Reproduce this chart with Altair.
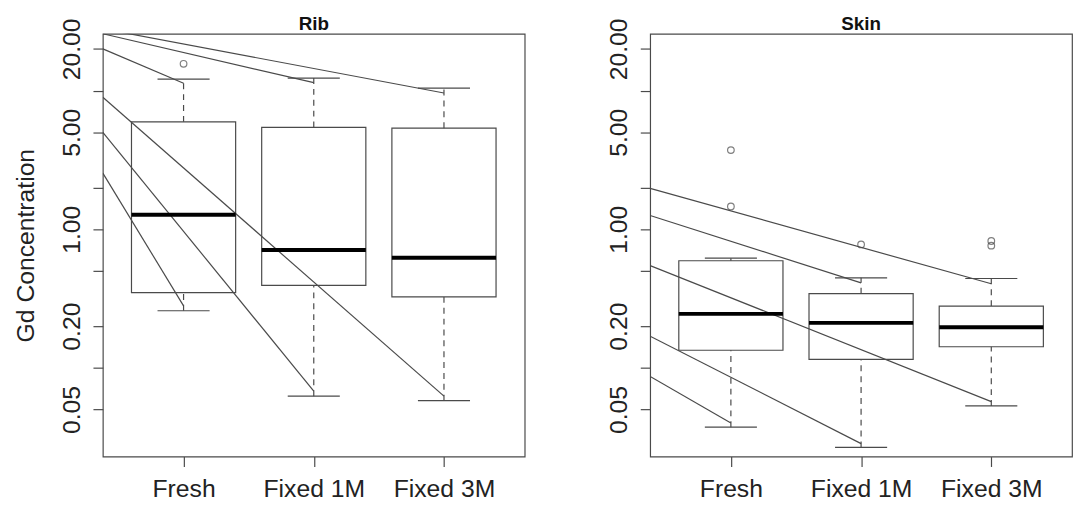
import altair as alt
import pandas as pd

# ---------------- data ----------------
groups = ["Fresh", "Fixed 1M", "Fixed 3M"]
positions = [1, 2, 3]

# Rib panel box statistics
rib_low = [0.258, 0.0625, 0.058]
rib_q1 = [0.349, 0.393, 0.325]
rib_med = [1.27, 0.709, 0.622]
rib_q3 = [5.95, 5.42, 5.36]
rib_high = [12.1, 12.3, 10.4]
rib_out_pos = [1]
rib_out_val = [15.6]
# Rib panel straight lines: value at the left edge -> value at a group
rib_line_start = [20.0, 25.7, 27.9, 8.96, 5.0, 2.54]
rib_line_end_pos = [1, 2, 3, 3, 2, 1]
rib_line_end = [11.3, 11.4, 9.61, 0.0625, 0.0679, 0.280]

# Skin panel box statistics
skin_low = [0.0373, 0.0267, 0.0531]
skin_q1 = [0.134, 0.115, 0.142]
skin_med = [0.245, 0.211, 0.196]
skin_q3 = [0.592, 0.343, 0.279]
skin_high = [0.618, 0.446, 0.441]
skin_out_pos = [1, 1, 2, 3, 3]
skin_out_val = [3.72, 1.46, 0.777, 0.822, 0.761]
skin_line_start = [1.97, 1.257, 0.546, 0.169, 0.0867]
skin_line_end_pos = [3, 2, 3, 2, 1]
skin_line_end = [0.404, 0.410, 0.0571, 0.0284, 0.040]

y_ticks = [0.05, 0.1, 0.2, 0.5, 1, 2, 5, 10, 20]
y_labelled = [0.05, 0.2, 1, 5, 20]

X_MIN, X_MAX = 0.38, 3.62
Y_MIN, Y_MAX = 0.0229, 25.7

FONT = "Liberation Sans"
GRAY = "#4a4a4a"
LW = 1.2


def panel(name, low, q1, med, q3, high, out_pos, out_val,
          l_start, l_end_pos, l_end, y_title):
    box = pd.DataFrame({"pos": positions, "low": low, "q1": q1, "med": med,
                        "q3": q3, "high": high})
    outl = pd.DataFrame({"pos": out_pos, "val": out_val})
    rows = []
    for i, (s, p, e) in enumerate(zip(l_start, l_end_pos, l_end)):
        rows.append({"id": i, "x": X_MIN, "y": s})
        rows.append({"id": i, "x": p, "y": e})
    lines = pd.DataFrame(rows)

    xs = alt.Scale(domain=[X_MIN, X_MAX], nice=False, zero=False)
    ys = alt.Scale(type="log", domain=[Y_MIN, Y_MAX], nice=False, zero=False)
    label_js = "[" + ",".join("'%s'" % g for g in groups) + "]"
    x_axis = alt.Axis(values=positions, labelExpr=label_js + "[datum.value - 1]",
                      title=None, grid=False, domain=False, tickSize=10,
                      labelPadding=10, labelFontSize=25, labelFont=FONT,
                      labelColor="#222222", tickColor=GRAY, tickWidth=LW,
                      labelBaseline="top")
    lab_js = "[" + ",".join(str(v) for v in y_labelled) + "]"
    y_axis = alt.Axis(values=y_ticks,
                      labelExpr="indexof(" + lab_js + ", datum.value) >= 0 ? format(datum.value, '.2f') : ''",
                      title=y_title if y_title else None, grid=False, domain=False,
                      tickSize=10, labelPadding=9, labelFontSize=25, labelFont=FONT,
                      labelColor="#222222", tickColor=GRAY, tickWidth=LW,
                      labelAngle=270, labelAlign="center", labelBaseline="bottom",
                      labelOverlap=False, titleFont=FONT, titleFontSize=25,
                      titleFontWeight="normal", titleColor="#222222", titlePadding=21)

    def X(field):
        return alt.X(field, type="quantitative", scale=xs, axis=x_axis)

    def Y(field):
        return alt.Y(field, type="quantitative", scale=ys, axis=y_axis)

    base_box = alt.Chart(box).transform_calculate(
        bl="datum.pos - 0.4", br="datum.pos + 0.4",
        cl="datum.pos - 0.2", cr="datum.pos + 0.2")

    line_layer = alt.Chart(lines).mark_line(clip=True, color=GRAY, strokeWidth=LW).encode(
        x=X("x"), y=Y("y"), detail="id:N")
    whisk_hi = base_box.mark_rule(color=GRAY, strokeWidth=LW, strokeDash=[6, 5]).encode(
        x=X("pos"), y=Y("q3"), y2="high")
    whisk_lo = base_box.mark_rule(color=GRAY, strokeWidth=LW, strokeDash=[6, 5]).encode(
        x=X("pos"), y=Y("low"), y2="q1")
    cap_hi = base_box.mark_rule(color=GRAY, strokeWidth=LW).encode(
        x=X("cl"), x2="cr", y=Y("high"))
    cap_lo = base_box.mark_rule(color=GRAY, strokeWidth=LW).encode(
        x=X("cl"), x2="cr", y=Y("low"))
    rect = base_box.mark_rect(fillOpacity=0, stroke=GRAY, strokeWidth=LW).encode(
        x=X("bl"), x2="br", y=Y("q1"), y2="q3")
    median = base_box.mark_rule(color="black", strokeWidth=4).encode(
        x=X("bl"), x2="br", y=Y("med"))
    pts = alt.Chart(outl).mark_point(shape="circle", filled=False, size=45,
                                     color=GRAY, strokeWidth=LW).encode(
        x=X("pos"), y=Y("val"))

    return alt.layer(line_layer, whisk_hi, whisk_lo, cap_hi, cap_lo, rect, median, pts).properties(
        width=427, height=428,
        title=alt.TitleParams(name, fontSize=19, fontWeight="bold", font=FONT,
                              color="#111111", offset=-16, anchor="middle"))


left = panel("Rib", rib_low, rib_q1, rib_med, rib_q3, rib_high, rib_out_pos, rib_out_val,
             rib_line_start, rib_line_end_pos, rib_line_end, "Gd Concentration")
right = panel("Skin", skin_low, skin_q1, skin_med, skin_q3, skin_high, skin_out_pos, skin_out_val,
              skin_line_start, skin_line_end_pos, skin_line_end, None)

chart = alt.hconcat(left, right, spacing=81).properties(
    padding={"left": 5, "top": 3, "right": 0, "bottom": 5},
    background="white"
).configure_view(stroke=GRAY, strokeWidth=LW)

chart.save("out.html", embed_options={"renderer": "svg", "actions": False})
